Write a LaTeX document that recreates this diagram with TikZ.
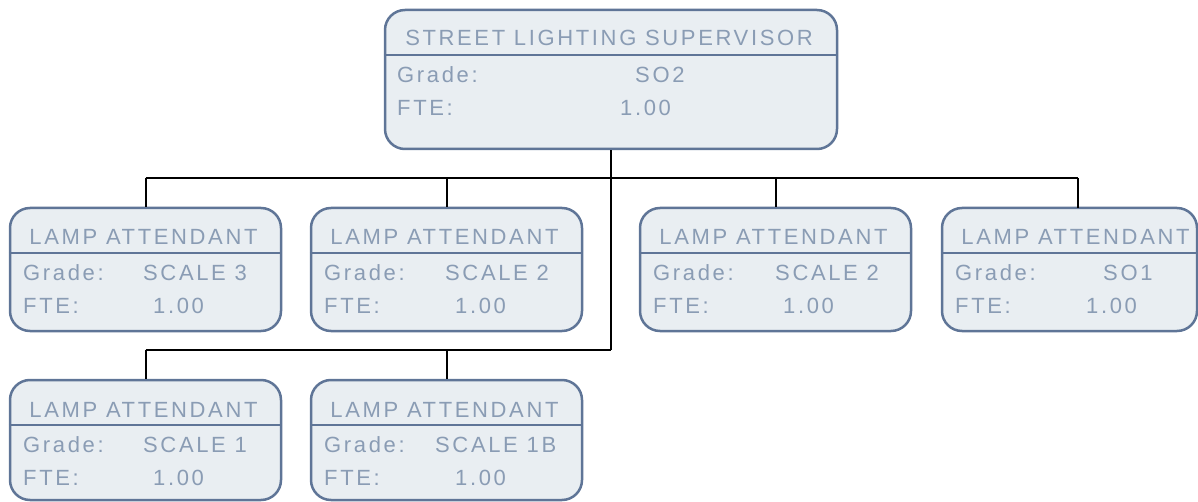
\documentclass[tikz,border=0pt]{standalone}
\usepackage{fontspec}
\setmainfont{Liberation Sans}[LetterSpace=12]
\definecolor{bxborder}{HTML}{5F7597}
\definecolor{bxfill}{HTML}{E9EEF2}
\definecolor{bxtext}{HTML}{8A9CB4}
\tikzset{
  orgbox/.style={draw=bxborder, fill=bxfill, line width=2.5pt, rounded corners=20pt, inner sep=0pt},
  hdrline/.style={draw=bxborder, line width=2.5pt},
  lbl/.style={text=bxtext, inner sep=0pt, font=\fontsize{22}{26}\selectfont},
  conn/.style={draw=black, line width=2pt}
}
% #1 name, #2 left x, #3 top y, #4 width, #5 height, #6 grade, #7 grade x, #8 fte x
\newcommand\lampbox[8]{%
  \node[orgbox, minimum width=#4, minimum height=#5] (#1) at (#2+#4/2, #3+#5/2) {};
  \draw[hdrline] (#1.west |- 0,#3+45) -- (#1.east |- 0,#3+45);
  \node[lbl, anchor=base] (#1t) at (#2+135.5-2, #3+37) {LAMP ATTENDANT};
  \node[lbl, anchor=base west] (#1g) at (#2+13, #3+72) {Grade:};
  \node[lbl, anchor=base west] (#1gv) at (#7, #3+72) {#6};
  \node[lbl, anchor=base west] (#1f) at (#2+13, #3+105) {FTE:};
  \node[lbl, anchor=base west] (#1fv) at (#8, #3+105) {1.00};
}
\begin{document}
\begin{tikzpicture}[x=1pt, y=-1pt]
\useasboundingbox (0,0) rectangle (1198,502);
% supervisor
\node[orgbox, minimum width=452, minimum height=139] (sup) at (611, 79.5) {};
\draw[hdrline] (sup.west |- 0,55) -- (sup.east |- 0,55);
\node[lbl, anchor=base] (supt) at (609, 46) {STREET LIGHTING SUPERVISOR};
\node[lbl, anchor=base west] (supg) at (397, 83) {Grade:};
\node[lbl, anchor=base west] (supgv) at (635, 83) {SO2};
\node[lbl, anchor=base west] (supf) at (397, 116) {FTE:};
\node[lbl, anchor=base west] (supfv) at (620, 116) {1.00};
% row 1
\lampbox{a1}{10}{208}{271}{123}{SCALE 3}{143}{153}
\lampbox{a2}{311}{208}{271}{123}{SCALE 2}{445}{455}
\lampbox{a3}{640}{208}{271}{123}{SCALE 2}{775}{783}
\node[orgbox, minimum width=255, minimum height=123] (a4) at (1069.5, 269.5) {};
\draw[hdrline] (a4.west |- 0,253) -- (a4.east |- 0,253);
\node[lbl, anchor=base] (a4t) at (1075.5, 245) {LAMP ATTENDANT};
\node[lbl, anchor=base west] (a4g) at (955, 280) {Grade:};
\node[lbl, anchor=base west] (a4gv) at (1103, 280) {SO1};
\node[lbl, anchor=base west] (a4f) at (955, 313) {FTE:};
\node[lbl, anchor=base west] (a4fv) at (1086, 313) {1.00};
% row 2
\lampbox{b1}{10}{380}{271}{120}{SCALE 1}{143}{153}
\lampbox{b2}{311}{380}{271}{120}{SCALE 1B}{435}{455}
% connectors
\coordinate (bus1) at (611,178);
\coordinate (bus2) at (611,350);
\coordinate (a4top) at (1077.5,208);
\draw[conn] (sup.south) -- (bus2);
\draw[conn] (a1.north |- bus1) -- (a4top |- bus1);
\draw[conn] (a1.north |- bus1) -- (a1.north);
\draw[conn] (a2.north |- bus1) -- (a2.north);
\draw[conn] (a3.north |- bus1) -- (a3.north);
\draw[conn] (a4top |- bus1) -- (a4top);
\draw[conn] (b1.north |- bus2) -- (bus2);
\draw[conn] (b1.north |- bus2) -- (b1.north);
\draw[conn] (b2.north |- bus2) -- (b2.north);
\end{tikzpicture}
\end{document}
